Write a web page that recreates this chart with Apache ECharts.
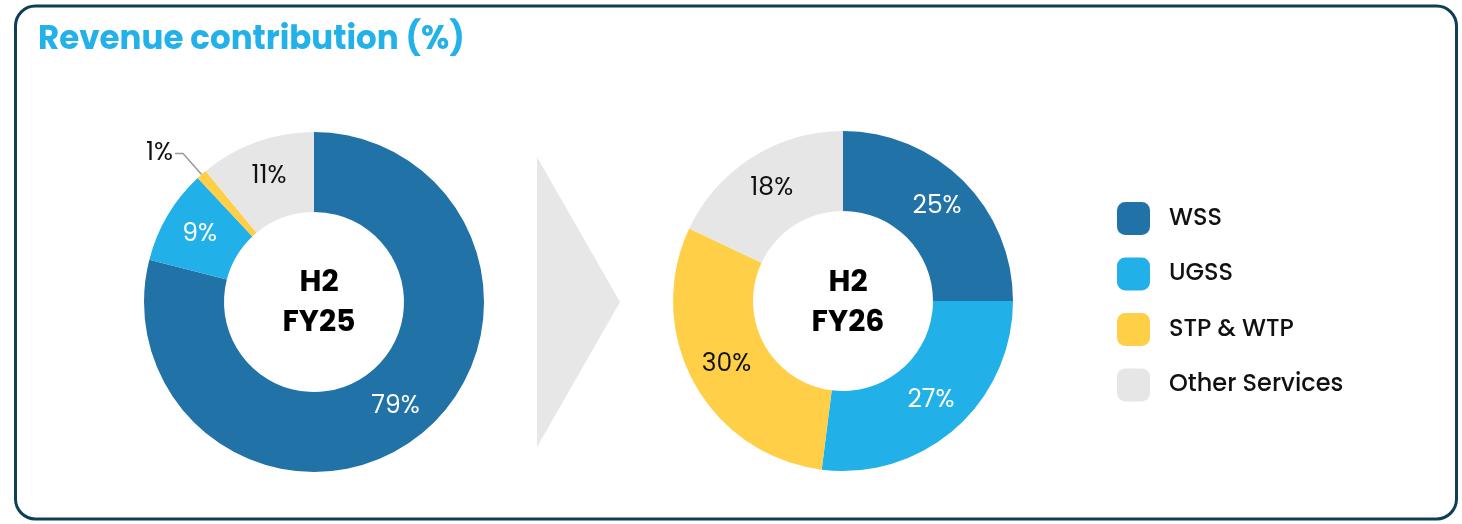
<!DOCTYPE html>
<html>
<head>
<meta charset="utf-8">
<script src="https://cdn.jsdelivr.net/npm/echarts@6/dist/echarts.min.js"></script>
<style>
  html, body { margin: 0; padding: 0; background: #fff; }
  #chart { width: 1462px; height: 524px; }
</style>
</head>
<body>
<div id="chart"></div>
<script>
// data
const categories = ['WSS', 'UGSS', 'STP & WTP', 'Other Services'];
const fy25Values = [79, 9, 1, 11];
const fy26Values = [25, 27, 30, 18];
const periodLabels = ['H2\nFY25', 'H2\nFY26'];

const colors = ['#2072a7', '#22b0e8', '#ffcf47', '#e6e6e6'];
const labelColors = ['#ffffff', '#ffffff', '#111111', '#111111'];
const FONT = 'Poppins, Inter, "Noto Sans", sans-serif';

const chart = echarts.init(document.getElementById('chart'));

const buildData = (values, outsideIdx) => values.map((v, i) => {
  const item = {
    name: categories[i],
    value: v,
    itemStyle: { color: colors[i] },
    label: { color: labelColors[i] }
  };
  if (i === outsideIdx) {
    item.label = { position: 'outside', color: '#111111', distanceToLabelLine: 2 };
    item.labelLine = { show: true, length: 28, length2: 8, lineStyle: { color: '#999999', width: 1.5 } };
  }
  return item;
});

const pieSeries = (values, center, outsideIdx) => ({
  type: 'pie',
  radius: [90, 170],
  center: center,
  startAngle: 90,
  clockwise: true,
  avoidLabelOverlap: false,
  silent: true,
  label: {
    show: true,
    position: 'inside',
    formatter: '{c}%',
    fontFamily: FONT,
    fontSize: 25,
    fontWeight: 'normal'
  },
  labelLine: { show: false },
  data: buildData(values, outsideIdx)
});

const centerTitle = (text, x) => ({
  text: text,
  left: x, top: 258, textAlign: 'center',
  textStyle: { color: '#000', fontSize: 30, fontWeight: 'bold', lineHeight: 40, fontFamily: FONT }
});

const option = {
  animation: false,
  title: [
    {
      text: 'Revenue contribution (%)',
      left: 33, top: 19,
      textStyle: { color: '#22b1e8', fontSize: 32.5, fontWeight: 'bold', fontFamily: FONT }
    },
    centerTitle(periodLabels[0], 314),
    centerTitle(periodLabels[1], 843)
  ],
  legend: {
    orient: 'vertical',
    left: 1117, top: 202,
    padding: 0,
    icon: 'roundRect',
    itemWidth: 33, itemHeight: 33, itemGap: 22.5,
    selectedMode: false,
    data: categories,
    textStyle: { color: '#111', fontSize: 24, fontWeight: 500, fontFamily: FONT, padding: [0, 0, 0, 14] }
  },
  graphic: [
    {
      type: 'rect',
      shape: { x: 15.5, y: 6, width: 1441, height: 513, r: 20 },
      style: { fill: 'none', stroke: '#0e3f55', lineWidth: 3 },
      silent: true
    },
    {
      type: 'polygon',
      shape: { points: [[537, 157], [620, 302], [537, 447]] },
      style: { fill: '#e7e7e7' },
      silent: true
    }
  ],
  series: [
    pieSeries(fy25Values, [314, 302], 2),
    pieSeries(fy26Values, [843, 301], -1)
  ]
};

chart.setOption(option);
</script>
</body>
</html>
